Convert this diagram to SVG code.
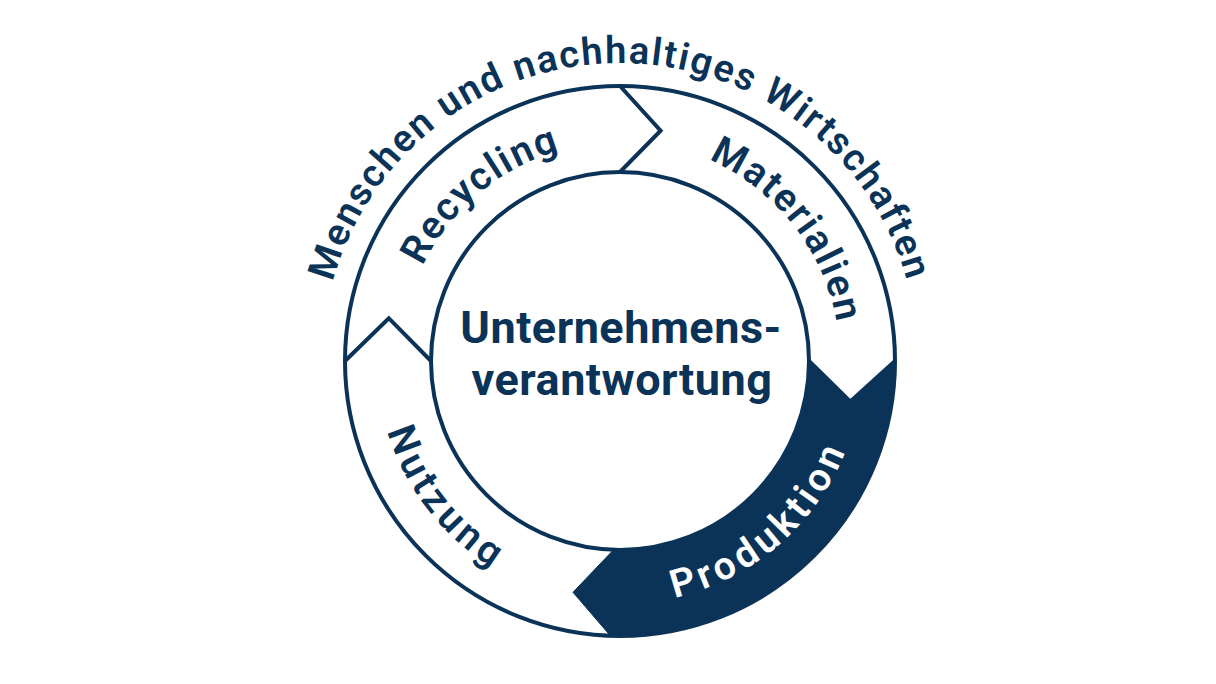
<svg xmlns="http://www.w3.org/2000/svg" xmlns:xlink="http://www.w3.org/1999/xlink" width="1216" height="684" viewBox="0 0 1216 684">
  <style>
    .line { fill: none; stroke: #0b3358; stroke-width: 4; stroke-linejoin: miter; }
    .dark { fill: #0b3358; stroke: #0b3358; stroke-width: 1; }
    .lbl { font-family: Roboto, "Liberation Sans", sans-serif; font-weight: 600; fill: #0b3358; }
    .ring { font-size: 39px; letter-spacing: 1.8px; }
    .wide { letter-spacing: 4.6px; }
    .outer { font-size: 38px; letter-spacing: 1.8px; }
    .center { font-family: Roboto, "Liberation Sans", sans-serif; font-weight: 700; font-size: 45px; fill: #0b3358; letter-spacing: 0.5px; }
  </style>
  <defs>
    <path id="pOuter" d="M 322,361 A 298 298 0 0 1 918,361"/>
    <path id="pRecycling" d="M 404.3,399 A 219 219 0 0 1 694.9,155.2"/>
    <path id="pMaterialien" d="M 589.4,143.1 A 220 220 0 0 1 824,443.4"/>
    <path id="pProduktion" d="M 540.9,590.8 A 243 243 0 0 0 858.5,314.6"/>
    <path id="pNutzung" d="M 394.7,270 A 243 243 0 0 0 653.8,601.6"/>
  </defs>
  <rect width="1216" height="684" fill="#ffffff"/>

  <g id="produktion">
    <path class="dark" d="M 895,361 L 850.4,401.6 L 809,361 A 189 189 0 0 1 613.4,549.9 L 573,592.3 L 610.4,635.8 A 275 275 0 0 0 895,361 Z"/>
    <text class="lbl ring wide" style="fill:#ffffff"><textPath xlink:href="#pProduktion" href="#pProduktion" startOffset="50%" text-anchor="middle">Produktion</textPath></text>
  </g>

  <g id="connectors">
    <circle class="line" cx="620" cy="361" r="275"/>
    <circle class="line" cx="620" cy="361" r="189"/>
    <polyline class="line" points="620,86 660.6,130.6 620,172"/>
    <polyline class="line" points="345,361 388.8,318.2 431,361"/>
    <polyline class="line" points="895,361 850.4,401.6 809,361"/>
  </g>

  <g id="recycling">
    <text class="lbl ring"><textPath xlink:href="#pRecycling" href="#pRecycling" startOffset="50%" text-anchor="middle">Recycling</textPath></text>
  </g>
  <g id="materialien">
    <text class="lbl ring"><textPath xlink:href="#pMaterialien" href="#pMaterialien" startOffset="50%" text-anchor="middle">Materialien</textPath></text>
  </g>
  <g id="nutzung">
    <text class="lbl ring wide"><textPath xlink:href="#pNutzung" href="#pNutzung" startOffset="50%" text-anchor="middle">Nutzung</textPath></text>
  </g>
  <g id="outer-label">
    <text class="lbl outer"><textPath xlink:href="#pOuter" href="#pOuter" startOffset="50%" text-anchor="middle">Menschen und nachhaltiges Wirtschaften</textPath></text>
  </g>
  <g id="center">
    <text class="center" x="621" y="343" text-anchor="middle">Unternehmens-</text>
    <text class="center" x="622" y="395" text-anchor="middle">verantwortung</text>
  </g>
</svg>
